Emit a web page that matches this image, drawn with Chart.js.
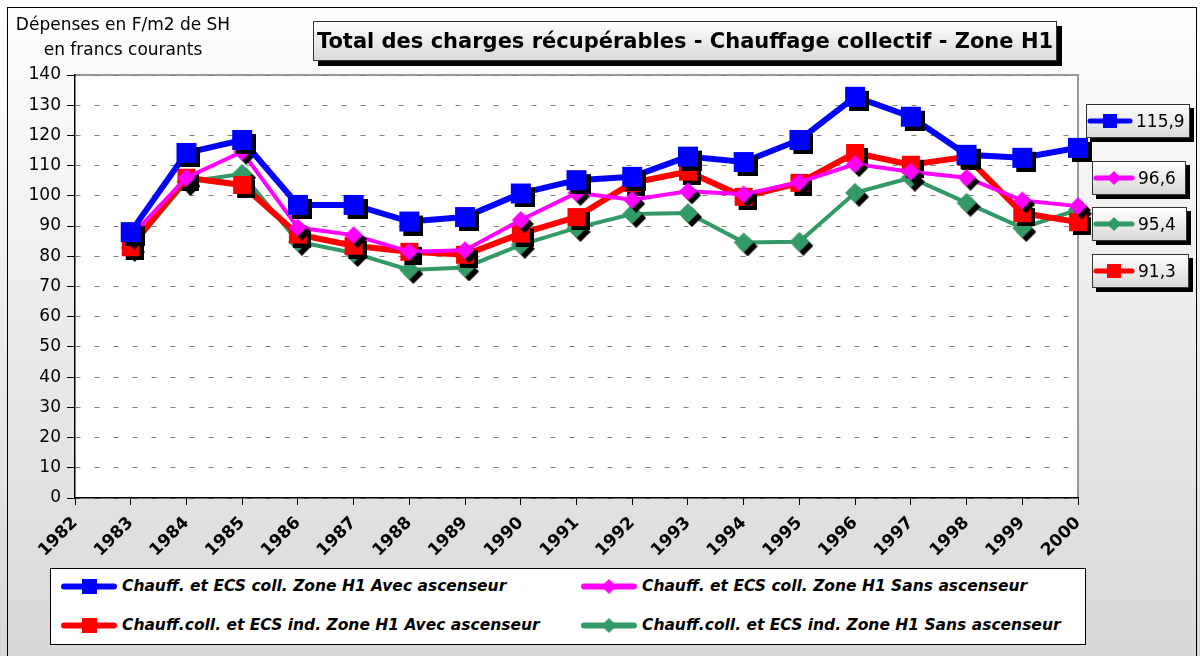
<!DOCTYPE html>
<html>
<head>
<meta charset="utf-8">
<script src="https://cdn.jsdelivr.net/npm/chart.js@4.4.1/dist/chart.umd.min.js"></script>
<style>
  body { margin: 0; }
  #page { position: relative; width: 1200px; height: 656px; overflow: hidden;
          background: linear-gradient(#ffffff, #d8d8d8); font-family: "DejaVu Sans", sans-serif; }
  #cadre { position: absolute; left: 7px; top: 7px; width: 1190px; height: 670px; border: 1px solid #000; box-sizing: border-box; }
  #graph { position: absolute; left: 0; top: 0; }
  #titreY { position: absolute; left: 10px; top: 12px; width: 226px; font-size: 17px; line-height: 25px; text-align: center; color: #000; }
  #titre { position: absolute; left: 313px; top: 21px; width: 744px; height: 40px; box-sizing: border-box;
           border: 1px solid #333; background: linear-gradient(#ffffff, #d8d8d8); box-shadow: 5px 5px 0 #000;
           font-weight: bold; font-size: 21px; line-height: 38px; text-align: center; white-space: nowrap; }
  .valeur { position: absolute; height: 34px; box-sizing: border-box; border: 1px solid #333;
            background: linear-gradient(#ffffff, #d8d8d8); box-shadow: 4px 4px 0 #000;
            font-size: 17px; line-height: 32px; display: flex; align-items: center; }
  .valeur canvas { margin-right: 3px; }
  .item canvas { margin-right: 5px; }
  #legende { position: absolute; left: 50px; top: 568px; width: 1036px; height: 77px; box-sizing: border-box;
             background: #fff; border: 1px solid #000; }
  .item { position: absolute; display: flex; align-items: center; font-weight: bold; font-style: italic; font-size: 15.5px; white-space: nowrap; }
</style>
</head>
<body>
<div id="page">
  <div id="cadre"></div>
  <canvas id="graph" width="1200" height="656"></canvas>
  <div id="titreY">Dépenses en F/m2 de SH<br>en francs courants</div>
  <div id="titre">Total des charges récupérables - Chauffage collectif - Zone H1</div>
  <div id="legende"></div>
</div>
<script>
const annees = ['1982', '1983', '1984', '1985', '1986', '1987', '1988', '1989', '1990', '1991',
                '1992', '1993', '1994', '1995', '1996', '1997', '1998', '1999', '2000'];
const collAvecAsc = [null, 88, 114.2, 118.5, 97, 97, 91.5, 93, 100.8, 105.2, 106.3, 113, 111.2, 118.5, 132.8, 126.2, 113.6, 112.6, 115.9];
const collSansAsc = [null, 86.5, 106, 114.6, 89.5, 87, 81.5, 82, 92, 101, 98.7, 101.5, 100.5, 104.5, 110.5, 108, 106, 98.5, 96.6];
const indAvecAsc  = [null, 83, 106, 103.6, 87.2, 83.5, 81.5, 80.5, 87.5, 93, 104.3, 108, 99.7, 104.3, 114.2, 110.3, 112.9, 94.3, 91.3];
const indSansAsc  = [null, 82.8, 104.6, 107.3, 84.8, 81.1, 75.5, 76.3, 83.8, 89.4, 94, 94.3, 84.6, 84.8, 101, 106, 97.7, 89.4, 95.4];
const libelles = [
  'Chauff. et ECS coll. Zone H1 Avec ascenseur',
  'Chauff. et ECS coll. Zone H1 Sans ascenseur',
  'Chauff.coll. et ECS ind. Zone H1 Avec ascenseur',
  'Chauff.coll. et ECS ind. Zone H1 Sans ascenseur'
];

// dessine un marqueur (carre ou losange) avec son ombre noire
function marqueur(forme, couleur, taille, ombre) {
  const c = document.createElement('canvas');
  const d = taille + 2 * ombre;
  c.width = d; c.height = d;
  const g = c.getContext('2d');
  const dessine = (x, y, fill) => {
    g.fillStyle = fill;
    g.beginPath();
    if (forme === 'carre') {
      g.rect(x, y, taille, taille);
    } else {
      g.moveTo(x + taille / 2, y);
      g.lineTo(x + taille, y + taille / 2);
      g.lineTo(x + taille / 2, y + taille);
      g.lineTo(x, y + taille / 2);
      g.closePath();
    }
    g.fill();
  };
  if (ombre) dessine(2 * ombre, 2 * ombre, '#000');
  dessine(ombre, ombre, couleur);
  return c;
}

// petit echantillon pour la legende : trait + marqueur
function echantillon(forme, couleur, largeur, epaisseur, taille) {
  const c = document.createElement('canvas');
  c.width = largeur; c.height = taille + 2;
  const g = c.getContext('2d');
  g.strokeStyle = couleur;
  g.lineWidth = epaisseur;
  g.lineCap = 'round';
  g.beginPath();
  g.moveTo(3, c.height / 2);
  g.lineTo(largeur - 3, c.height / 2);
  g.stroke();
  g.drawImage(marqueur(forme, couleur, taille, 0), largeur / 2 - taille / 2, 1);
  return c;
}

const series = [
  { label: libelles[0], data: collAvecAsc, color: '#0000ff', forme: 'carre', taille: 20, trait: 6 },
  { label: libelles[1], data: collSansAsc, color: '#ff00ff', forme: 'losange', taille: 18, trait: 4 },
  { label: libelles[2], data: indAvecAsc, color: '#ff0000', forme: 'carre', taille: 18, trait: 6 },
  { label: libelles[3], data: indSansAsc, color: '#339966', forme: 'losange', taille: 20, trait: 4 }
];

const fond = {
  id: 'fond',
  beforeDraw(chart) {
    const { ctx, chartArea: a } = chart;
    ctx.save();
    ctx.fillStyle = '#fff';
    ctx.fillRect(a.left, a.top, a.right - a.left, a.bottom - a.top);
    ctx.strokeStyle = '#999';
    ctx.lineWidth = 2;
    ctx.beginPath();
    ctx.moveTo(a.left, a.top);
    ctx.lineTo(a.right, a.top);
    ctx.lineTo(a.right, a.bottom);
    ctx.stroke();
    ctx.restore();
  }
};

new Chart(document.getElementById('graph'), {
  type: 'line',
  data: {
    labels: annees,
    datasets: series.map(s => ({
      label: s.label,
      data: s.data,
      borderColor: s.color,
      backgroundColor: s.color,
      borderWidth: s.trait,
      pointStyle: marqueur(s.forme, s.color, s.taille, 4),
      pointRadius: 10,
      tension: 0,
      clip: false
    }))
  },
  options: {
    responsive: false,
    animation: false,
    events: [],
    layout: { padding: { left: 10, right: 122, top: 75, bottom: 88 } },
    plugins: { legend: { display: false }, title: { display: false }, tooltip: { enabled: false } },
    scales: {
      x: {
        offset: false,
        afterFit(scale) { scale.height = 70; },
        grid: { drawOnChartArea: false, drawTicks: true, tickLength: 7, tickColor: '#000', tickWidth: 1 },
        border: { color: '#000', width: 1.5 },
        ticks: { color: '#000', maxRotation: 45, minRotation: 45, padding: 8,
                 font: { family: 'DejaVu Sans', size: 17, weight: 'bold' } }
      },
      y: {
        min: 0, max: 140,
        afterFit(scale) { scale.width = 65; },
        grid: { color: '#808080', lineWidth: 1, tickLength: 8, tickColor: '#000', tickBorderDash: [] },
        border: { color: '#000', width: 1.5, dash: [5, 14] },
        ticks: { stepSize: 10, color: '#000', padding: 6, font: { family: 'DejaVu Sans', size: 17 } }
      }
    }
  },
  plugins: [fond]
});

// encadres des dernieres valeurs, a droite
const encadres = [
  { s: 0, left: 1086, top: 104, width: 104 },
  { s: 1, left: 1092, top: 161, width: 94 },
  { s: 3, left: 1092, top: 207, width: 95 },
  { s: 2, left: 1092, top: 254, width: 97 }
];
const page = document.getElementById('page');
encadres.forEach(e => {
  const s = series[e.s];
  const div = document.createElement('div');
  div.className = 'valeur';
  div.style.left = e.left + 'px';
  div.style.top = e.top + 'px';
  div.style.width = e.width + 'px';
  div.appendChild(echantillon(s.forme, s.color, e.s === 0 ? 46 : 42, 5, 14));
  const dernier = s.data[s.data.length - 1];
  div.appendChild(document.createTextNode(dernier.toFixed(1).replace('.', ',')));
  page.appendChild(div);
});

// legende du bas
const positions = [
  { left: 10, top: 8 }, { left: 530, top: 8 }, { left: 10, top: 47 }, { left: 530, top: 47 }
];
const legende = document.getElementById('legende');
series.forEach((s, i) => {
  const it = document.createElement('div');
  it.className = 'item';
  it.style.left = positions[i].left + 'px';
  it.style.top = positions[i].top + 'px';
  it.appendChild(echantillon(s.forme, s.color, 56, 6, 15));
  it.appendChild(document.createTextNode(s.label));
  legende.appendChild(it);
});
</script>
</body>
</html>
